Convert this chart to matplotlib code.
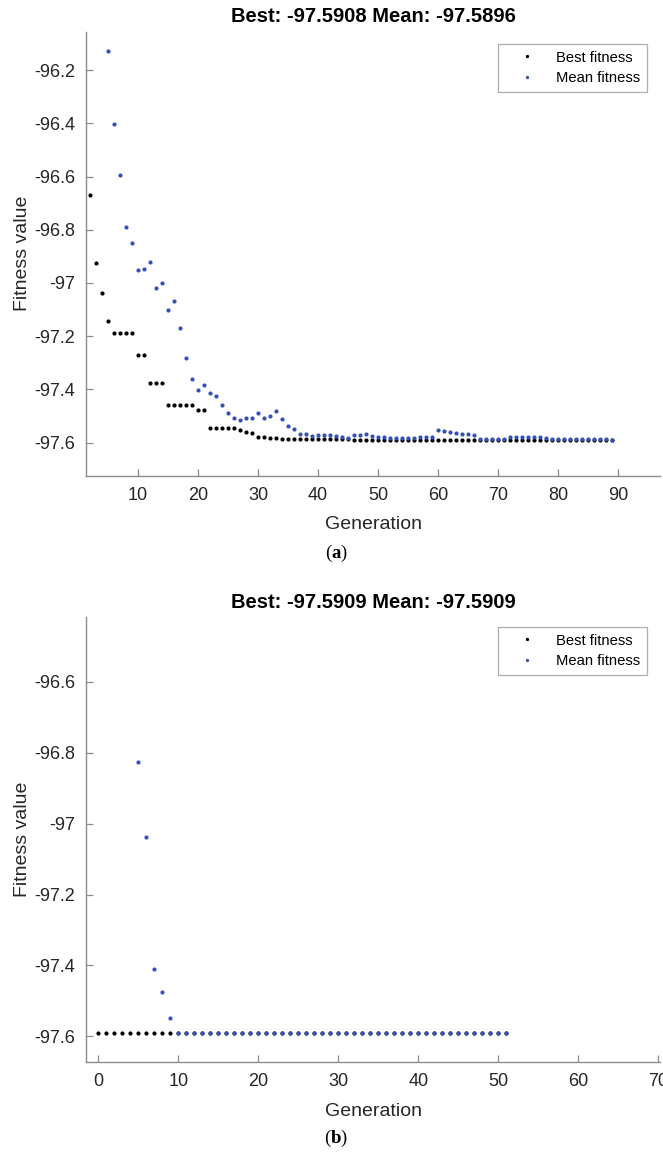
import numpy as np
import matplotlib
matplotlib.use("Agg")
import matplotlib.pyplot as plt
from matplotlib.ticker import FuncFormatter

plt.rcParams['font.family'] = ['Liberation Sans', 'DejaVu Sans']
plt.rcParams['mathtext.fontset'] = 'custom'
plt.rcParams['mathtext.rm'] = 'Liberation Serif'
plt.rcParams['mathtext.bf'] = 'Liberation Serif:bold'

# run (a): generations 2..89 for best, 5..89 for mean
gen_best_a = np.arange(2, 90)
best_a = [-96.668, -96.925, -97.037, -97.144,
          -97.187, -97.187, -97.187, -97.187,
          -97.270, -97.270,
          -97.375, -97.375, -97.375,
          -97.458, -97.458, -97.458, -97.458, -97.458,
          -97.479, -97.479,
          -97.545, -97.545, -97.545, -97.545, -97.545,
          -97.552, -97.560, -97.565,
          -97.577, -97.577, -97.582, -97.582,
          -97.586, -97.586, -97.586, -97.586, -97.586, -97.586,
          -97.586, -97.586, -97.586, -97.586, -97.586, -97.586,
          -97.589, -97.589, -97.589, -97.589, -97.589, -97.589, -97.589,
          -97.589, -97.589, -97.589, -97.589, -97.589, -97.589, -97.589,
          -97.589, -97.589, -97.589, -97.589, -97.589, -97.589, -97.589,
          -97.5908, -97.5908, -97.5908, -97.5908, -97.5908, -97.5908,
          -97.5908, -97.5908, -97.5908, -97.5908, -97.5908, -97.5908,
          -97.5908, -97.5908, -97.5908, -97.5908, -97.5908, -97.5908,
          -97.5908, -97.5908, -97.5908, -97.5908, -97.5908]

gen_mean_a = np.arange(5, 90)
mean_a = [-96.130, -96.402, -96.593, -96.789, -96.849,
          -96.953, -96.946, -96.922, -97.019, -97.001,
          -97.103, -97.069, -97.169, -97.283, -97.361,
          -97.402, -97.385, -97.414, -97.424, -97.457,
          -97.487, -97.509, -97.515, -97.509, -97.509,
          -97.487, -97.506, -97.500, -97.481, -97.511,
          -97.539, -97.549, -97.566, -97.566, -97.575,
          -97.572, -97.572, -97.572, -97.575, -97.577,
          -97.582, -97.572, -97.572, -97.569, -97.575,
          -97.577, -97.577, -97.582, -97.582, -97.582,
          -97.582, -97.582, -97.580, -97.578, -97.577,
          -97.552, -97.556, -97.559, -97.562, -97.566,
          -97.569, -97.571, -97.585, -97.587, -97.587,
          -97.587, -97.587, -97.580, -97.580, -97.579,
          -97.579, -97.580, -97.580, -97.581, -97.587,
          -97.587, -97.587, -97.587, -97.587, -97.587,
          -97.587, -97.587, -97.587, -97.587, -97.5896]

# run (b): generations 0..51 for best, 5..51 for mean
gen_best_b = np.arange(0, 52)
best_b = [-97.5909, -97.5909, -97.5909, -97.5909, -97.5909, -97.5909, -97.5909,
          -97.5909, -97.5909, -97.5909, -97.5909, -97.5909, -97.5909, -97.5909,
          -97.5909, -97.5909, -97.5909, -97.5909, -97.5909, -97.5909, -97.5909,
          -97.5909, -97.5909, -97.5909, -97.5909, -97.5909, -97.5909, -97.5909,
          -97.5909, -97.5909, -97.5909, -97.5909, -97.5909, -97.5909, -97.5909,
          -97.5909, -97.5909, -97.5909, -97.5909, -97.5909, -97.5909, -97.5909,
          -97.5909, -97.5909, -97.5909, -97.5909, -97.5909, -97.5909, -97.5909,
          -97.5909, -97.5909, -97.5909]

gen_mean_b = np.arange(5, 52)
mean_b = [-96.825, -97.038, -97.411, -97.474, -97.548,
          -97.5909, -97.5909, -97.5909, -97.5909, -97.5909, -97.5909,
          -97.5909, -97.5909, -97.5909, -97.5909, -97.5909, -97.5909,
          -97.5909, -97.5909, -97.5909, -97.5909, -97.5909, -97.5909,
          -97.5909, -97.5909, -97.5909, -97.5909, -97.5909, -97.5909,
          -97.5909, -97.5909, -97.5909, -97.5909, -97.5909, -97.5909,
          -97.5909, -97.5909, -97.5909, -97.5909, -97.5909, -97.5909,
          -97.5909, -97.5909, -97.5909, -97.5909, -97.5909, -97.5909]

titles = ['Best: -97.5908 Mean: -97.5896', 'Best: -97.5909 Mean: -97.5909']
panel_tags = [r'$(\mathbf{a})$', r'$(\mathbf{b})$']

W, H = 663, 1159
fig = plt.figure(figsize=(W / 100, H / 100), dpi=100)

BLUE = '#3550b8'
GRAY = '#8c8c8c'
TXT = '#262626'


def px_axes(left, top, right, bottom):
    return fig.add_axes([left / W, 1 - bottom / H, (right - left) / W, (bottom - top) / H])


def style(ax, title):
    for s in ['top', 'right']:
        ax.spines[s].set_visible(False)
    for s in ['left', 'bottom']:
        ax.spines[s].set_color(GRAY)
        ax.spines[s].set_linewidth(1.0)
    ax.tick_params(direction='in', length=5, width=0.9, color=GRAY,
                   labelsize=13, labelcolor=TXT, pad=8)
    ax.yaxis.set_major_formatter(FuncFormatter(lambda v, p: '%g' % round(v, 2)))
    ax.set_xlabel('Generation', fontsize=14, color=TXT, labelpad=9)
    ax.set_ylabel('Fitness value', fontsize=14, color=TXT, labelpad=2)
    ax.set_title(title, fontsize=14.5, fontweight='bold', color='black', pad=7)


def legend(ax, top_px):
    ax.legend(loc='upper left', bbox_to_anchor=(498 / W, 1 - top_px / H),
              bbox_transform=fig.transFigure, fontsize=10.6, frameon=True,
              fancybox=False, edgecolor='#9a9a9a', borderpad=0.45,
              handlelength=3.0, handletextpad=0.5, labelspacing=0.45,
              markerscale=0.8, borderaxespad=0)
    ax.get_legend().get_frame().set_linewidth(0.9)


ms = 3.0

# (a)
ax1 = px_axes(86, 31.7, 660, 475.7)
ax1.plot(gen_best_a, best_a, 'o', ms=ms, mew=0, color='black', label='Best fitness')
ax1.plot(gen_mean_a, mean_a, 'o', ms=ms, mew=0, color=BLUE, label='Mean fitness')
ax1.set_xlim(1.3, 97.0)
ax1.set_ylim(-97.724, -96.056)
ax1.set_xticks(np.arange(10, 100, 10))
ax1.set_yticks([-97.6, -97.4, -97.2, -97.0, -96.8, -96.6, -96.4, -96.2])
style(ax1, titles[0])
legend(ax1, 44)
fig.text(336 / W, 1 - 553 / H, panel_tags[0], ha='center', va='center', fontsize=13.5)

# (b)
ax2 = px_axes(86, 617.3, 660, 1062.3)
ax2.plot(gen_best_b, best_b, 'o', ms=ms, mew=0, color='black', label='Best fitness')
ax2.plot(gen_mean_b, mean_b, 'o', ms=ms, mew=0, color=BLUE, label='Mean fitness')
ax2.set_xlim(-1.56, 70.2)
ax2.set_ylim(-97.673, -96.418)
ax2.set_xticks(np.arange(0, 80, 10))
ax2.set_yticks([-97.6, -97.4, -97.2, -97.0, -96.8, -96.6])
style(ax2, titles[1])
legend(ax2, 627)
fig.text(336 / W, 1 - 1138 / H, panel_tags[1], ha='center', va='center', fontsize=13.5)

fig.savefig('out.png', dpi=100)
